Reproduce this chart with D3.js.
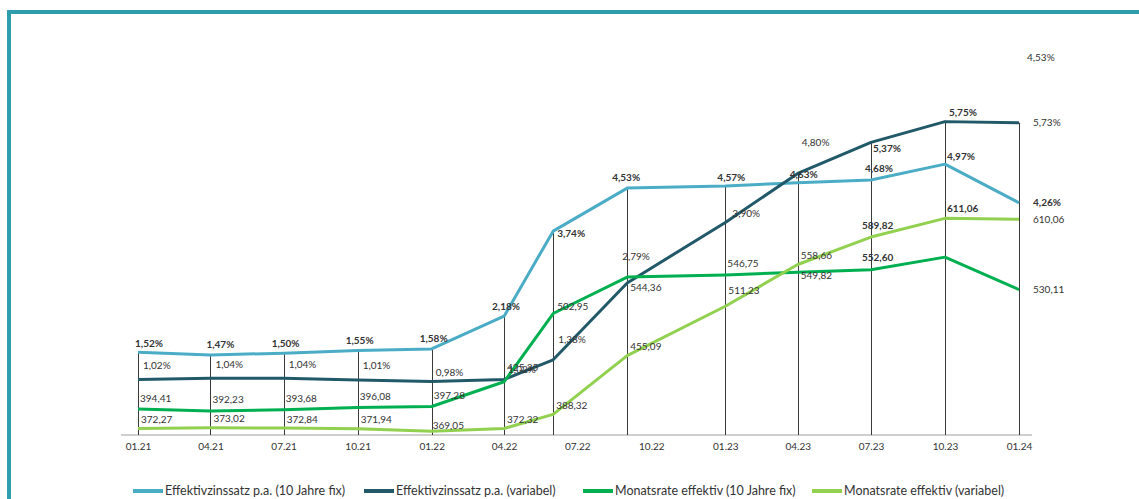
<!DOCTYPE html>
<html>
<head>
<meta charset="utf-8">
<script src="https://cdn.jsdelivr.net/npm/d3@7"></script>
<style>
  body { margin: 0; background: #fff; }
  svg { display: block; font-family: Lato, "Open Sans", sans-serif; }
</style>
</head>
<body>
<svg id="chart" width="1139" height="499"></svg>
<script>
// dates of the data points (month precision)
const dates = ['2021-01', '2021-04', '2021-07', '2021-10', '2022-01', '2022-04', '2022-06',
  '2022-09', '2023-01', '2023-04', '2023-07', '2023-10', '2024-01'];
// quarterly axis ticks
const tickDates = ['2021-01', '2021-04', '2021-07', '2021-10', '2022-01', '2022-04', '2022-07',
  '2022-10', '2023-01', '2023-04', '2023-07', '2023-10', '2024-01'];

const zinsFix = [1.52, 1.47, 1.50, 1.55, 1.58, 2.18, 3.74, 4.53, 4.57, 4.63, 4.68, 4.97, 4.26];
const zinsVar = [1.02, 1.04, 1.04, 1.01, 0.98, 1.02, 1.38, 2.79, 3.90, 4.80, 5.37, 5.75, 5.73];
const rateFix = [394.41, 392.23, 393.68, 396.08, 397.28, 425.35, 502.95, 544.36, 546.75, 549.82, 552.60, 567.00, 530.11];
const rateVar = [372.27, 373.02, 372.84, 371.94, 369.05, 372.32, 388.32, 455.09, 511.23, 558.66, 589.82, 611.06, 610.06];

const seriesNames = ['Effektivzinssatz p.a. (10 Jahre fix)', 'Effektivzinssatz p.a. (variabel)',
  'Monatsrate effektiv (10 Jahre fix)', 'Monatsrate effektiv (variabel)'];

const parse = d3.timeParse('%Y-%m');
const svg = d3.select('#chart');

// frame
svg.append('path')
  .attr('d', 'M9,499 V12 H1139')
  .attr('fill', 'none')
  .attr('stroke', '#2f9eac')
  .attr('stroke-width', 4);

const x = d3.scaleTime()
  .domain([parse('2021-01'), parse('2024-01')])
  .range([138, 1019]);
const yPct = d3.scaleLinear().domain([0, 6]).range([435, 108]);
const yEur = d3.scaleLinear().domain([350, 650]).range([448.1, 184.1]);

const fmt = (v, pct) => v.toFixed(2).replace('.', ',') + (pct ? '%' : '');

// label offsets [dx, dy] relative to the point (default + a few exceptions)
const series = [
  {values: zinsFix, y: yPct, pct: true, color: '#4bacc6', bold: true,
    def: [-12, -10], over: {0: [-3, -9], 1: [-4, -10], 6: [4, 2], 7: [-15, -11], 8: [-8, -8], 9: [-8, -8], 10: [-6, -11], 11: [2, -8]}},
  {values: zinsVar, y: yPct, pct: true, color: '#215968', bold: false,
    def: [5, -14], over: {4: [4, -9], 5: [4, -10], 6: [5, -20], 7: [-5, -26], 8: [7, -9], 9: [4, -31], 10: [2, 6], 11: [4, -9]},
    boldIdx: [10, 11]},
  {values: rateFix, y: yEur, pct: false, color: '#00b050', bold: false,
    def: [2, -11], over: {5: [3, -14], 6: [4, -7], 7: [3, 10], 9: [3, 3], 10: [-9, -12]},
    hide: [11], boldIdx: [10]},
  {values: rateVar, y: yEur, pct: false, color: '#92d050', bold: false,
    def: [3, -9], over: {4: [1, -6], 8: [3, -16], 10: [-9, -12], 11: [2, -10]},
    boldIdx: [10, 11]}
];

const last = dates.length - 1;

// axis baseline
svg.append('line')
  .attr('x1', x.range()[0] - 17).attr('x2', x.range()[1] + 13)
  .attr('y1', yPct(0)).attr('y2', yPct(0))
  .attr('stroke', '#cfcfcf').attr('stroke-width', 2);

// drop lines from the highest point of each date
dates.forEach((d, i) => {
  const top = d3.min(series, s => s.y(s.values[i]));
  svg.append('line')
    .attr('x1', Math.round(x(parse(d))) + 0.5).attr('x2', Math.round(x(parse(d))) + 0.5)
    .attr('y1', top).attr('y2', yPct(0))
    .attr('stroke', '#3a3a3a').attr('stroke-width', 1);
});

// lines
series.forEach(s => {
  const line = d3.line()
    .x((v, i) => x(parse(dates[i])))
    .y(v => s.y(v));
  svg.append('path')
    .datum(s.values)
    .attr('d', line)
    .attr('fill', 'none')
    .attr('stroke', s.color)
    .attr('stroke-width', 3)
    .attr('stroke-linejoin', 'round');
});

// data labels
series.forEach(s => {
  s.values.forEach((v, i) => {
    if (s.hide && s.hide.includes(i)) return;
    const off = i === last ? [14, 0] : (s.over[i] || s.def);
    const isBold = i !== last && (s.bold || (s.boldIdx && s.boldIdx.includes(i)));
    svg.append('text')
      .attr('x', x(parse(dates[i])) + off[0])
      .attr('y', s.y(v) + off[1])
      .attr('dy', '0.35em')
      .attr('font-size', 10)
      .attr('font-weight', isBold || (i === last && s.bold) ? 700 : 400)
      .attr('fill', '#333')
      .text(fmt(v, s.pct));
  });
});

// stray label top right
svg.append('text')
  .attr('x', 1027).attr('y', 57).attr('dy', '0.35em')
  .attr('font-size', 10).attr('fill', '#333')
  .text('4,53%');

// x axis labels
const axis = d3.axisBottom(x)
  .tickValues(tickDates.map(parse))
  .tickSize(0)
  .tickPadding(8)
  .tickFormat(d3.timeFormat('%m.%y'));
const gx = svg.append('g')
  .attr('transform', `translate(0,${yPct(0)})`)
  .call(axis);
gx.select('.domain').remove();
gx.selectAll('text').attr('font-size', 10).attr('fill', '#333').attr('font-family', 'Lato, sans-serif');

// legend
const legendX = [133, 364, 583, 812];
const legend = svg.append('g').attr('transform', 'translate(0,491)');
series.forEach((s, i) => {
  const g = legend.append('g').attr('transform', `translate(${legendX[i]},0)`);
  g.append('line').attr('x1', 0).attr('x2', 30).attr('y1', 0).attr('y2', 0)
    .attr('stroke', s.color).attr('stroke-width', 4);
  g.append('text').attr('x', 32).attr('dy', '0.35em')
    .attr('font-size', 12.5).attr('fill', '#333')
    .text(seriesNames[i]);
});
</script>
</body>
</html>
